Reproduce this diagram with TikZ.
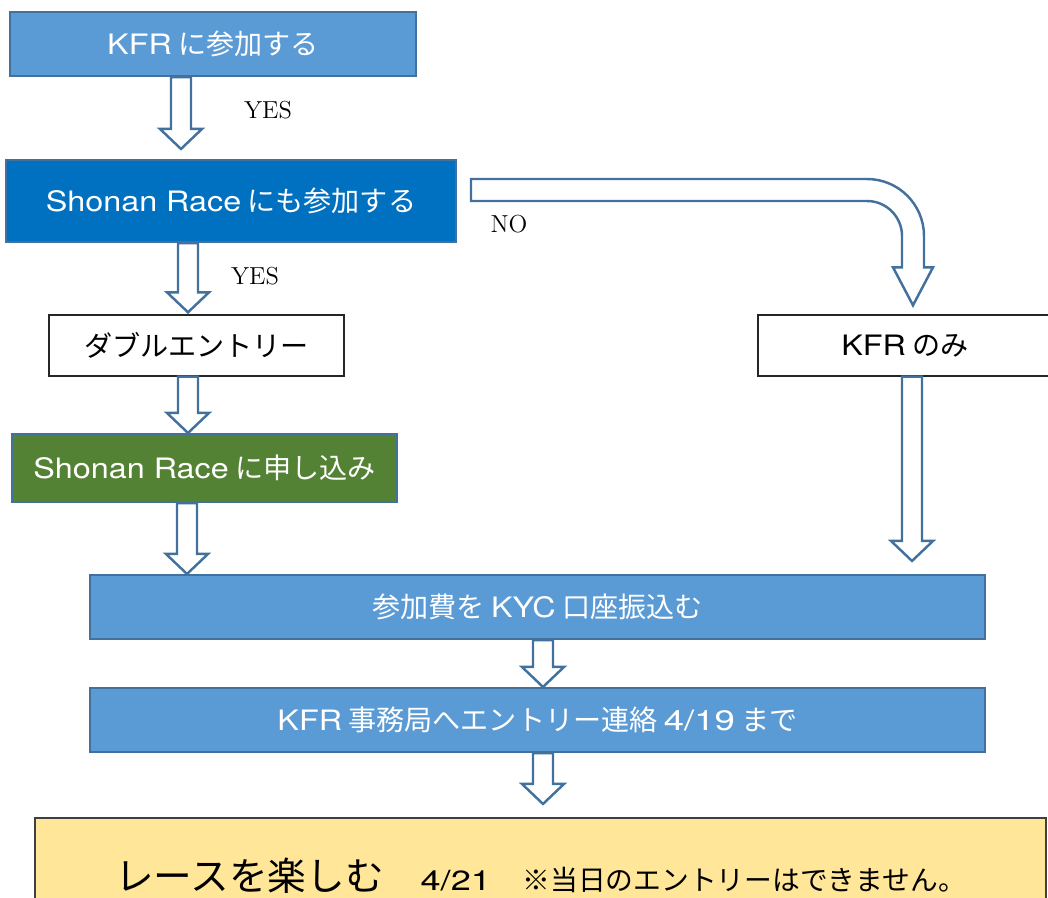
\documentclass[tikz,border=0pt]{standalone}
\usepackage{fontspec}
\newfontfamily\jp{Noto Sans CJK JP}
\newfontfamily\lat[FakeStretch=1.15]{TeX Gyre Heros}
\newfontfamily\digs[FakeStretch=1.3]{TeX Gyre Heros}
\usepackage{tikz}
\usetikzlibrary{calc}

\definecolor{boxblue}{HTML}{5B9BD5}
\definecolor{edgeblue}{HTML}{41719C}
\definecolor{deepblue}{HTML}{0070C0}
\definecolor{leafgreen}{HTML}{548235}
\definecolor{paleyellow}{HTML}{FFE699}
\definecolor{edgegray}{HTML}{404040}

\newcommand{\la}[1]{{\lat #1}}
\newcommand{\dg}[1]{{\digs #1}}

\tikzset{
  box/.style={rectangle, draw=edgeblue, line width=1.2pt, inner sep=0pt,
    font=\jp\fontsize{16}{19}\selectfont},
  bluebox/.style={box, fill=boxblue, text=white},
  deepbox/.style={box, fill=deepblue, text=white},
  greenbox/.style={box, fill=leafgreen, text=white},
  plainbox/.style={box, draw=black!85, line width=0.8pt, fill=white, text=black},
  enjoybox/.style={box, draw=edgegray, fill=paleyellow, text=black},
  blockarrow/.style={draw=edgeblue, fill=white, line width=1.4pt, line join=miter},
  lbl/.style={font=\fontsize{14}{16}\selectfont, inner sep=0pt}
}

% hollow down arrow: x, from, to, gap above target
\newcommand{\blockdown}[4]{%
  \coordinate (tip) at ($(#1,0 |- #3)+(0,-#4)$);
  \draw[blockarrow] (tip) -- ++(21,-20) -- ++(-11,0) -- (#1+10,0 |- #2)
    -- (#1-10,0 |- #2) -- ($(tip)+(-10,-20)$) -- ++(-11,0) -- cycle;
}

\begin{document}
\begin{tikzpicture}[x=0.02cm,y=-0.02cm]
  \useasboundingbox (0,0) rectangle (1048,897);
  \clip (0,0) rectangle (1048,897);

  % Cajas
  \node[bluebox, minimum width=8.12cm, minimum height=1.28cm] (kfr) at (213,44) {\la{KFR} に参加する};
  \node[deepbox, minimum width=9cm, minimum height=1.64cm] (shonan) at (231,201) {\la{Shonan Race} にも参加する};
  \node[plainbox, minimum width=5.9cm, minimum height=1.22cm] (double) at (196.5,345.5) {ダブルエントリー};
  \node[plainbox, minimum width=5.88cm, minimum height=1.22cm] (kfronly) at (905,345.5) {\la{KFR} のみ};
  \node[greenbox, minimum width=7.7cm, minimum height=1.36cm] (apply) at (204.5,468) {\la{Shonan Race} に申し込み};
  \node[bluebox, minimum width=17.9cm, minimum height=1.28cm] (pay) at (537.5,607) {参加費を \la{KYC} 口座振込む};
  \node[bluebox, minimum width=17.9cm, minimum height=1.28cm] (notify) at (537.5,720) {\la{KFR} 事務局へエントリー連絡 \dg{4/19} まで};
  \node[enjoybox, minimum width=20.22cm, minimum height=2.32cm] (enjoy) at (540.5,876)
    {{\fontsize{22}{25}\selectfont レースを楽しむ}\hspace{21pt}{\fontsize{15.8}{18}\selectfont\dg{4/21}\hspace{18pt}※当日のエントリーはできません。}};

  % Flechas
  \blockdown{181}{kfr.south}{shonan.north}{10}
  \blockdown{188}{shonan.south}{double.north}{2}
  \blockdown{188}{double.south}{apply.north}{0}
  \blockdown{187}{apply.south}{pay.north}{0}
  \blockdown{912}{kfronly.south}{pay.north}{13}
  \blockdown{543}{pay.south}{notify.north}{0}
  \blockdown{543}{notify.south}{enjoy.north}{13}

  % Flecha NO
  \coordinate (nostart) at ($(shonan.east)+(14,-22)$);
  \coordinate (notip) at ($(kfronly.north)+(8,-9)$);
  \draw[blockarrow] (nostart) -- ($(notip |- nostart)+(-46,0)$)
    arc[start angle=-90, end angle=0, radius=57]
    -- ($(notip)+(11,-38)$) -- ++(9,0) -- (notip) -- ($(notip)+(-20,-38)$) -- ++(9,0)
    -- ($(notip |- nostart)+(-11,57)$)
    arc[start angle=0, end angle=-90, radius=35]
    -- ($(nostart)+(0,22)$) -- cycle;

  % Etiquetas
  \node[lbl] (yes1) at (268,110) {YES};
  \node[lbl] (yes2) at (255,276) {YES};
  \node[lbl] (no) at (509,224) {NO};
\end{tikzpicture}
\end{document}
